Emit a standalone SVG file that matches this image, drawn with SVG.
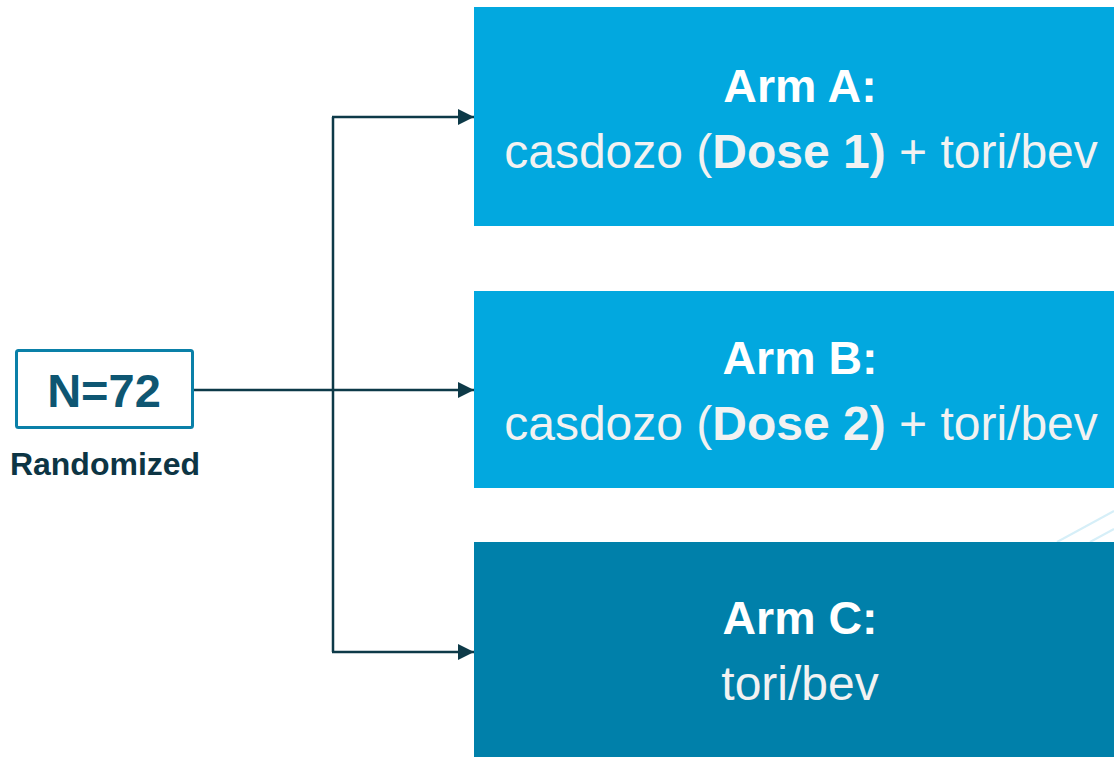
<svg xmlns="http://www.w3.org/2000/svg" width="1114" height="757" viewBox="0 0 1114 757">
  <defs>
    <style>
      .arm { fill: #02a8df; }
      .armc { fill: #0080aa; }
      .title { font-family: "Liberation Sans", Arial, sans-serif; font-weight: bold; font-size: 46.5px; fill: #ffffff; text-anchor: middle; }
      .body { font-family: "Liberation Sans", Arial, sans-serif; font-size: 48px; fill: #f2f2f2; text-anchor: middle; }
      .b { font-weight: bold; }
      .conn { fill: none; stroke: #0d3a48; stroke-width: 2.5; }
    </style>
    <marker id="arrow" markerUnits="userSpaceOnUse" markerWidth="18" markerHeight="18" refX="16" refY="8" orient="auto">
      <path d="M0,0 L16,8 L0,16 Z" fill="#0d3a48"/>
    </marker>
  </defs>
  <rect width="1114" height="757" fill="#ffffff"/>
  <g id="decor" stroke="#d6eff8" stroke-width="2" fill="none">
    <line x1="1057" y1="542" x2="1114" y2="511"/>
    <line x1="1090" y1="542" x2="1114" y2="529"/>
  </g>
  <g id="connectors">
    <line class="conn" x1="193" y1="390" x2="333" y2="390"/>
    <line class="conn" x1="333" y1="117" x2="333" y2="652"/>
    <line class="conn" x1="332" y1="117" x2="474" y2="117" marker-end="url(#arrow)"/>
    <line class="conn" x1="333" y1="390" x2="474" y2="390" marker-end="url(#arrow)"/>
    <line class="conn" x1="332" y1="652" x2="474" y2="652" marker-end="url(#arrow)"/>
  </g>
  <g id="n72">
    <rect x="16.5" y="350.5" width="176" height="77" rx="2" fill="#ffffff" stroke="#0a80a8" stroke-width="3"/>
    <text x="104" y="407" font-family="Liberation Sans, Arial, sans-serif" font-weight="bold" font-size="47" fill="#0e5672" text-anchor="middle">N=72</text>
    <text x="105" y="475" font-family="Liberation Sans, Arial, sans-serif" font-weight="bold" font-size="32" fill="#0d3544" text-anchor="middle">Randomized</text>
  </g>
  <g id="armA">
    <rect class="arm" x="474" y="7" width="640" height="219"/>
    <text class="title" x="800" y="102">Arm A:</text>
    <text class="body" x="801" y="168">casdozo (<tspan class="b">Dose 1)</tspan> + tori/bev</text>
  </g>
  <g id="armB">
    <rect class="arm" x="474" y="291" width="640" height="197"/>
    <text class="title" x="800" y="374">Arm B:</text>
    <text class="body" x="801" y="440">casdozo (<tspan class="b">Dose 2)</tspan> + tori/bev</text>
  </g>
  <g id="armC">
    <rect class="armc" x="474" y="542" width="640" height="215"/>
    <text class="title" x="800" y="634">Arm C:</text>
    <text class="body" x="800" y="700">tori/bev</text>
  </g>
</svg>
